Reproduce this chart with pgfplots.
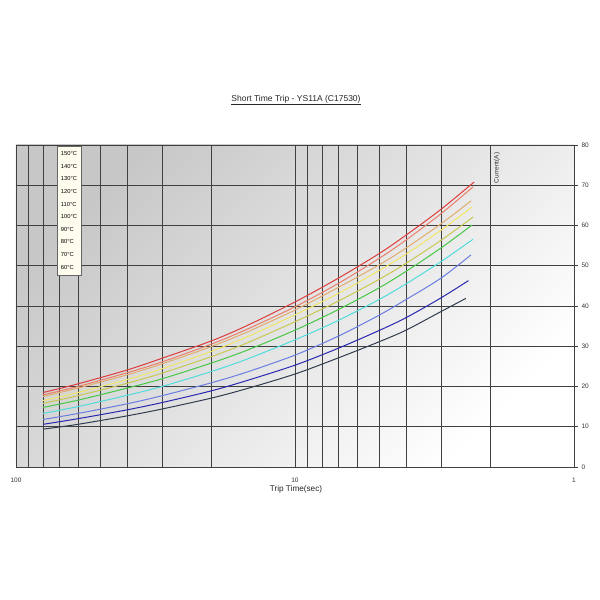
\documentclass[border=0pt]{standalone}
\usepackage{fontspec}
\setmainfont{Liberation Sans}
\usepackage{pgfplots}
\pgfplotsset{compat=1.18}
\definecolor{c150}{RGB}{222,60,60}
\definecolor{c140}{RGB}{235,125,105}
\definecolor{c130}{RGB}{226,172,108}
\definecolor{c120}{RGB}{240,230,100}
\definecolor{c110}{RGB}{200,200,80}
\definecolor{c100}{RGB}{70,200,70}
\definecolor{c90}{RGB}{80,220,220}
\definecolor{c80}{RGB}{105,125,225}
\definecolor{c70}{RGB}{40,40,175}
\definecolor{c60}{RGB}{50,60,80}
\definecolor{legbg}{RGB}{255,253,238}
\begin{document}
\begin{tikzpicture}
\useasboundingbox (0pt,0pt) rectangle (600pt,600pt);
\begin{axis}[at={(16pt,133pt)}, anchor=south west, scale only axis,
  width=558pt, height=322pt,
  xmode=log, x dir=reverse, xmin=1, xmax=100, ymin=0, ymax=80,
  xtick={1,10,100}, xticklabels={1,10,100},
  minor xtick={2,3,4,5,6,7,8,9,20,30,40,50,60,70,80,90},
  ytick={0,10,...,80}, yticklabel pos=right, ytick pos=right, xtick pos=bottom,
  grid=both,
  major grid style={black!75, line width=0.65pt},
  minor grid style={black!75, line width=0.65pt},
  axis line style={black!75, line width=0.65pt},
  tick align=outside, major tick length=4pt, minor tick length=0pt,
  ytick style={black!75, line width=0.65pt}, xtick style={draw=none},
  ticklabel style={font=\fontsize{6.5}{7.5}\selectfont, text=black!80},
  xticklabel style={yshift=-3pt},
  /pgf/number format/assume math mode=true,
  axis background/.style={shade, top color=black!22, bottom color=white, shading angle=45},
  legend image code/.code={},
  legend cell align=left,
  legend style={at={(0.073,0.997)}, anchor=north west, fill=legbg, draw=black!60,
    font=\fontsize{5.8}{6.5}\selectfont, inner xsep=3pt, inner ysep=1.5pt, row sep=0pt,
    nodes={inner ysep=3.8pt, inner xsep=1pt, text height=4.2pt, text depth=0.8pt}},
  every axis plot/.append style={line width=1pt, smooth},
]
\addplot[c150] coordinates {(80,18.5) (60,20.65) (40,24.1) (30,27.0) (20,31.3) (15,35.0) (10,41.0) (7,46.9) (5,53.0) (4,57.6) (3,64.0) (2.28,70.8)};
\addlegendentry{150°C}
\addplot[c140] coordinates {(80,17.9) (60,20.0) (40,23.4) (30,26.1) (20,30.5) (15,34.1) (10,39.8) (7,45.6) (5,51.8) (4,56.4) (3,62.9) (2.30,69.6)};
\addlegendentry{140°C}
\addplot[c130] coordinates {(80,17.5) (60,19.6) (40,22.9) (30,25.6) (20,29.9) (15,33.4) (10,39.0) (7,44.6) (5,50.2) (4,54.4) (3,60.4) (2.34,66.1)};
\addlegendentry{130°C}
\addplot[c120] coordinates {(80,16.5) (60,18.5) (40,21.7) (30,24.4) (20,28.7) (15,32.2) (10,37.8) (7,43.1) (5,48.8) (4,52.9) (3,58.8) (2.32,64.6)};
\addlegendentry{120°C}
\addplot[c110] coordinates {(80,15.8) (60,17.7) (40,20.8) (30,23.3) (20,27.4) (15,30.7) (10,36.1) (7,41.2) (5,46.6) (4,50.6) (3,56.3) (2.30,62.1)};
\addlegendentry{110°C}
\addplot[c100] coordinates {(80,14.8) (60,16.6) (40,19.6) (30,21.9) (20,25.8) (15,28.9) (10,34.0) (7,39.1) (5,44.5) (4,48.6) (3,54.4) (2.32,60.1)};
\addlegendentry{100°C}
\addplot[c90] coordinates {(80,13.3) (60,15.0) (40,17.8) (30,20.0) (20,23.7) (15,26.7) (10,31.6) (7,36.4) (5,41.6) (4,45.5) (3,51.0) (2.30,56.6)};
\addlegendentry{90°C}
\addplot[c80] coordinates {(80,11.8) (60,13.3) (40,15.7) (30,17.7) (20,20.9) (15,23.5) (10,27.8) (7,32.5) (5,37.7) (4,41.6) (3,46.9) (2.34,52.7)};
\addlegendentry{80°C}
\addplot[c70] coordinates {(80,10.6) (60,12.0) (40,14.2) (30,16.0) (20,18.9) (15,21.4) (10,25.3) (7,29.5) (5,33.9) (4,37.1) (3,42.0) (2.39,46.3)};
\addlegendentry{70°C}
\addplot[c60] coordinates {(80,9.4) (60,10.6) (40,12.7) (30,14.4) (20,17.1) (15,19.4) (10,23.1) (7,27.1) (5,31.1) (4,34.0) (3,38.6) (2.44,41.9)};
\addlegendentry{60°C}
\node[rotate=90, font=\fontsize{6.5}{7.5}\selectfont, text=black!80] at (axis cs:1.89,74.3) {Current(A)};
\end{axis}
\node[font=\fontsize{8.5}{9.5}\selectfont, text=black!85] at (296pt,500pt) {\underline{Short Time Trip - YS11A (C17530)}};
\node[font=\fontsize{8.2}{9.2}\selectfont, text=black!85] at (296pt,111pt) {Trip Time(sec)};
\end{tikzpicture}
\end{document}
